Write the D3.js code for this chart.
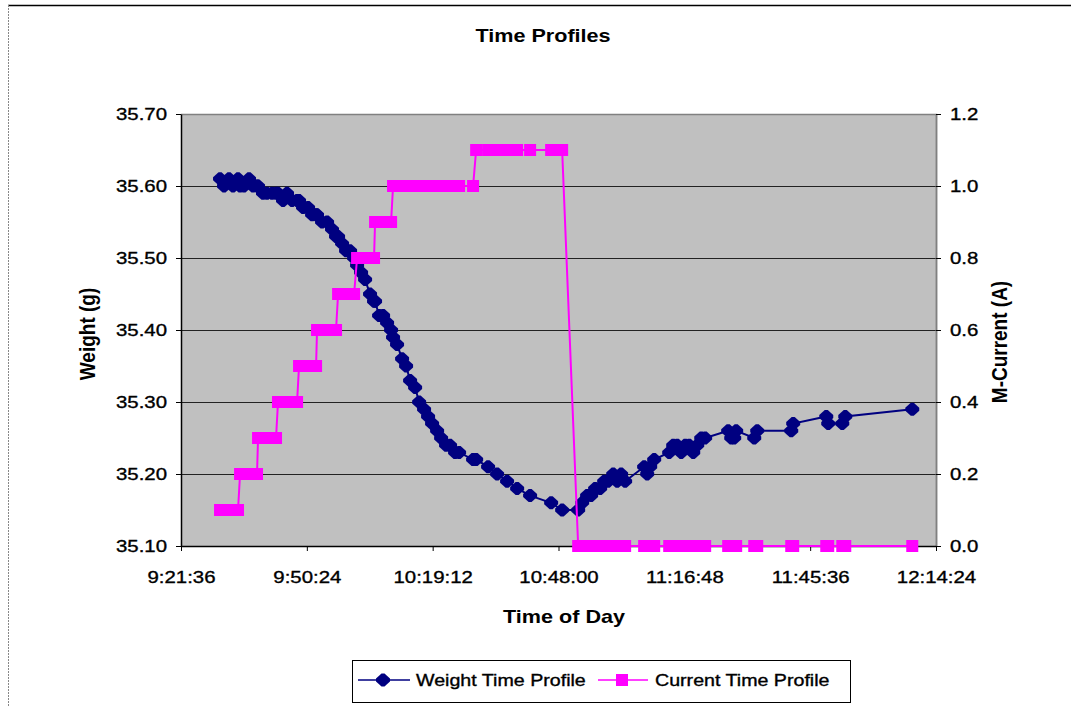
<!DOCTYPE html>
<html>
<head>
<meta charset="utf-8">
<script src="https://cdn.jsdelivr.net/npm/d3@7"></script>
<style>
body { margin: 0; background: #fff; }
text { font-family: "Liberation Sans", Arial, sans-serif; fill: #000; }
text.reg { stroke: #000; stroke-width: 0.35px; }
</style>
</head>
<body>
<script>
var times = ["9:30:32","9:31:27","9:32:35","9:33:30","9:34:39","9:35:07","9:36:01","9:37:10","9:38:05","9:39:00",
  "9:39:14","9:40:22","9:41:17","9:42:26","9:43:21","9:43:48","9:44:57","9:45:52","9:47:01","9:48:10",
  "9:48:37","9:49:32","9:50:41","9:51:36","9:52:31","9:52:44","9:53:53","9:55:02","9:56:10","9:57:05",
  "9:57:33","9:58:28","9:59:23","10:00:18","10:01:13","10:01:54","10:02:49","10:03:44","10:04:52","10:05:47",
  "10:06:01","10:06:56","10:07:51","10:08:46","10:09:41","10:10:08","10:11:03","10:12:12","10:13:07","10:14:02",
  "10:15:11","10:16:06","10:17:14","10:18:09","10:19:04","10:20:13","10:21:08","10:22:16","10:23:11","10:24:20",
  "10:25:15","10:28:27","10:29:09","10:31:53","10:33:57","10:36:14","10:38:32","10:41:30","10:46:19","10:48:50",
  "10:52:30","10:53:25","10:54:33","10:55:28","10:56:23","10:57:32","10:58:27","10:59:22","11:00:31","11:01:26",
  "11:02:20","11:03:15","11:07:36","11:08:18","11:08:59","11:09:54","11:13:20","11:14:15","11:15:10","11:16:05",
  "11:17:00","11:17:55","11:18:50","11:19:45","11:20:40","11:21:34","11:26:50","11:27:32","11:28:13","11:28:40",
  "11:32:48","11:33:29","11:41:16","11:41:43","11:49:17","11:49:44","11:52:57","11:53:38","12:08:58"];

var weight = [35.61,35.60,35.61,35.60,35.61,35.60,35.60,35.61,35.60,35.60,
  35.60,35.59,35.59,35.59,35.59,35.59,35.58,35.59,35.58,35.58,
  35.58,35.57,35.57,35.56,35.56,35.56,35.55,35.55,35.54,35.53,
  35.53,35.52,35.51,35.51,35.50,35.49,35.48,35.47,35.45,35.44,
  35.44,35.42,35.42,35.41,35.40,35.39,35.38,35.36,35.35,35.33,
  35.32,35.30,35.29,35.28,35.27,35.26,35.25,35.24,35.24,35.23,
  35.23,35.22,35.22,35.21,35.20,35.19,35.18,35.17,35.16,35.15,
  35.15,35.16,35.17,35.17,35.18,35.18,35.19,35.19,35.20,35.19,
  35.20,35.19,35.21,35.20,35.21,35.22,35.23,35.24,35.24,35.23,
  35.24,35.24,35.23,35.24,35.25,35.25,35.26,35.25,35.25,35.26,
  35.25,35.26,35.26,35.27,35.28,35.27,35.27,35.28,35.29];

var current = [0.1,0.1,0.1,0.1,0.1,0.2,0.2,0.2,0.2,0.2,
  0.3,0.3,0.3,0.3,0.3,0.4,0.4,0.4,0.4,0.4,
  0.5,0.5,0.5,0.5,0.5,0.6,0.6,0.6,0.6,0.6,
  0.7,0.7,0.7,0.7,0.7,0.8,0.8,0.8,0.8,0.8,
  0.9,0.9,0.9,0.9,0.9,1.0,1.0,1.0,1.0,1.0,
  1.0,1.0,1.0,1.0,1.0,1.0,1.0,1.0,1.0,1.0,
  1.0,1.0,1.1,1.1,1.1,1.1,1.1,1.1,1.1,1.1,
  0,0,0,0,0,0,0,0,0,0,
  0,0,0,0,0,0,0,0,0,0,
  0,0,0,0,0,0,0,0,0,0,
  0,0,0,0,0,0,0,0,0];

var timeTicks = ["9:21:36","9:50:24","10:19:12","10:48:00","11:16:48","11:45:36","12:14:24"];
var weightTicks = [35.10,35.20,35.30,35.40,35.50,35.60,35.70];
var currentTicks = [0.0,0.2,0.4,0.6,0.8,1.0,1.2];

var width = 1071;
var height = 706;
var plot = {left: 181, right: 936, top: 114, bottom: 546};
var stretch = 1.2;

var parseTime = d3.timeParse("%H:%M:%S");
var data = times.map(function(t, i) {
  return {t: parseTime(t), w: weight[i], c: current[i]};
});

var svg = d3.select("body")
  .append("svg")
  .attr("width", width)
  .attr("height", height);

svg.append("line")
  .attr("x1", 8).attr("x2", width).attr("y1", 5.5).attr("y2", 5.5)
  .attr("stroke", "#000").attr("stroke-width", 1.5);
svg.append("line")
  .attr("x1", 8.5).attr("x2", 8.5).attr("y1", 5).attr("y2", height)
  .attr("stroke", "#888").attr("stroke-dasharray", "2,1");

var x = d3.scaleTime()
  .domain([parseTime(timeTicks[0]), parseTime(timeTicks[timeTicks.length - 1])])
  .range([plot.left, plot.right]);
var yW = d3.scaleLinear()
  .domain([weightTicks[0], weightTicks[weightTicks.length - 1]])
  .range([plot.bottom, plot.top]);
var yC = d3.scaleLinear()
  .domain([currentTicks[0], currentTicks[currentTicks.length - 1]])
  .range([plot.bottom, plot.top]);

svg.append("rect")
  .attr("x", plot.left)
  .attr("y", plot.top)
  .attr("width", plot.right - plot.left)
  .attr("height", plot.bottom - plot.top)
  .attr("fill", "#C0C0C0");

svg.append("g")
  .selectAll("line")
  .data(weightTicks.slice(1, -1))
  .join("line")
    .attr("x1", plot.left)
    .attr("x2", plot.right)
    .attr("y1", function(d) { return Math.round(yW(d)) + 0.5; })
    .attr("y2", function(d) { return Math.round(yW(d)) + 0.5; })
    .attr("stroke", "#222")
    .attr("stroke-width", 1);

svg.append("path")
  .attr("d", "M" + plot.left + "," + (plot.top + 0.5) + "H" + (plot.right + 0.5) + "V" + plot.bottom)
  .attr("fill", "none")
  .attr("stroke", "#808080")
  .attr("stroke-width", 1.5);

// axes
var leftAxis = svg.append("g")
  .attr("transform", "translate(" + plot.left + ",0)")
  .call(d3.axisLeft(yW).tickValues(weightTicks).tickSize(5).tickSizeOuter(0)
    .tickFormat(d3.format(".2f")));
leftAxis.selectAll("text")
  .attr("class", "reg")
  .attr("font-size", 17)
  .attr("x", -14 / stretch)
  .attr("transform", "scale(" + stretch + ",1)");

var rightAxis = svg.append("g")
  .attr("transform", "translate(" + plot.right + ",0)")
  .call(d3.axisRight(yC).tickValues(currentTicks).tickSize(5).tickSizeOuter(0)
    .tickFormat(d3.format(".1f")));
rightAxis.selectAll("text")
  .attr("class", "reg")
  .attr("font-size", 17)
  .attr("x", 14 / stretch)
  .attr("transform", "scale(" + stretch + ",1)");
rightAxis.select(".domain").attr("stroke", "#808080");

var bottomAxis = svg.append("g")
  .attr("transform", "translate(0," + plot.bottom + ")")
  .call(d3.axisBottom(x).tickValues(timeTicks.map(parseTime)).tickSize(5).tickSizeOuter(0)
    .tickFormat(function(d, i) { return timeTicks[i]; }));
bottomAxis.selectAll("text")
  .attr("class", "reg")
  .attr("font-size", 17)
  .attr("y", 37)
  .attr("dy", 0)
  .attr("transform", "scale(" + stretch + ",1)");

svg.selectAll(".domain").attr("stroke-width", 1.5);
leftAxis.select(".domain").attr("stroke", "#000");
bottomAxis.select(".domain").attr("stroke", "#000");
svg.selectAll(".tick line").attr("stroke", "#000");

// series
var weightLine = d3.line()
  .x(function(d) { return x(d.t); })
  .y(function(d) { return yW(d.w); });
var currentLine = d3.line()
  .x(function(d) { return x(d.t); })
  .y(function(d) { return yC(d.c); });

var diamond = "M-1.5,-6.5L1.5,-6.5L7,-1.5L7,1.5L1.5,6.5L-1.5,6.5L-7,1.5L-7,-1.5Z";

svg.append("path")
  .datum(data)
  .attr("d", weightLine)
  .attr("fill", "none")
  .attr("stroke", "#000080")
  .attr("stroke-width", 2);

svg.append("g")
  .selectAll("path")
  .data(data)
  .join("path")
    .attr("d", diamond)
    .attr("transform", function(d) { return "translate(" + x(d.t) + "," + yW(d.w) + ")"; })
    .attr("fill", "#000080");

svg.append("path")
  .datum(data)
  .attr("d", currentLine)
  .attr("fill", "none")
  .attr("stroke", "#FF00FF")
  .attr("stroke-width", 2);

svg.append("g")
  .selectAll("rect")
  .data(data)
  .join("rect")
    .attr("x", function(d) { return x(d.t) - 6; })
    .attr("y", function(d) { return yC(d.c) - 6; })
    .attr("width", 12)
    .attr("height", 12)
    .attr("fill", "#FF00FF");

// titles
function stretchedText(label, tx, ty, size, bold, rotate) {
  return svg.append("text")
    .attr("transform", "translate(" + tx + "," + ty + ") scale(" + stretch + ",1)" + (rotate ? " rotate(-90)" : ""))
    .attr("text-anchor", "middle")
    .attr("font-size", size)
    .attr("font-weight", bold ? "bold" : "normal")
    .text(label);
}

stretchedText("Time Profiles", 543, 42, 18, true);
stretchedText("Time of Day", 564, 623, 18, true);
stretchedText("Weight (g)", 95, 334, 19, true, true);
stretchedText("M-Current (A)", 1007, 342, 19, true, true);

// legend
var legend = svg.append("g");
legend.append("rect")
  .attr("x", 352.5)
  .attr("y", 660.5)
  .attr("width", 498)
  .attr("height", 42)
  .attr("fill", "#fff")
  .attr("stroke", "#000")
  .attr("stroke-width", 1);

legend.append("line")
  .attr("x1", 358).attr("x2", 410).attr("y1", 680).attr("y2", 680)
  .attr("stroke", "#000080").attr("stroke-width", 1.5);
legend.append("path")
  .attr("d", diamond)
  .attr("transform", "translate(383,680)")
  .attr("fill", "#000080");
legend.append("text")
  .attr("class", "reg")
  .attr("transform", "translate(416,686) scale(1.19,1)")
  .attr("font-size", 16.5)
  .text("Weight Time Profile");

legend.append("line")
  .attr("x1", 598).attr("x2", 648).attr("y1", 680).attr("y2", 680)
  .attr("stroke", "#FF00FF").attr("stroke-width", 1.5);
legend.append("rect")
  .attr("x", 616).attr("y", 674).attr("width", 12).attr("height", 12)
  .attr("fill", "#FF00FF");
legend.append("text")
  .attr("class", "reg")
  .attr("transform", "translate(655,686) scale(1.19,1)")
  .attr("font-size", 16.5)
  .text("Current Time Profile");
</script>
</body>
</html>
